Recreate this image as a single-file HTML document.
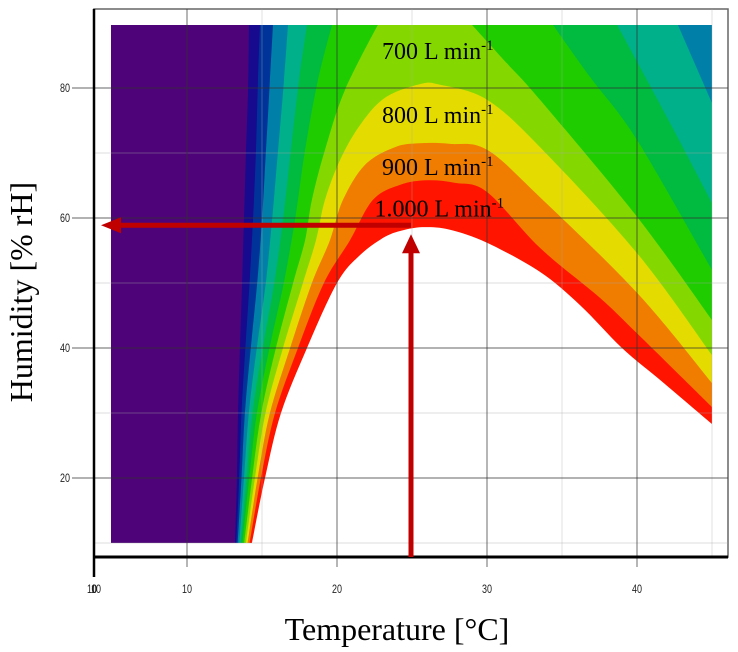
<!DOCTYPE html>
<html><head><meta charset="utf-8"><style>
html,body{margin:0;padding:0;background:#fff;}
svg{display:block;}
</style></head><body>
<svg id="chart" width="738" height="652" viewBox="0 0 738 652" xmlns="http://www.w3.org/2000/svg"></svg>
<script>
// ---- data ----
const xTicks = [10, 20, 30, 40];
const yTicks = [20, 40, 60, 80];
const xMinorTicks = [15, 25, 35, 45];
const yMinorTicks = [10, 30, 50, 70];
const bandColors = ["#170A8F","#003399","#0080A8","#00B08A","#00BB40","#1ECC00","#84D800","#E4DC00","#F07C00","#FF1400","#FFFFFF"];
const baseColor = "#4E0478";
const dataExtentT = [4.93, 45];
const dataExtentH = [10, 89.7];
const b0T = [13.2,13.33,13.4,13.53,13.67,13.8,13.93,14.07,14.13];
const b0H = [10,20,30,40,50,60,70,80,89.7];
const b1T = [13.29,13.48,13.63,13.89,14.17,14.4,14.6,14.73,14.87];
const b1H = [10,20,30,40,50,59.7,70.5,81.2,89.7];
const b2T = [13.38,13.63,13.86,14.25,14.68,15,15.27,15.53,15.73];
const b2H = [10,20,30,40,50,59.7,70.5,81.2,89.7];
const b3T = [13.49,13.8,14.12,14.65,15.25,15.67,16.07,16.47,16.73,42.73,45];
const b3H = [10,20,30,40,50,59.7,70.5,81.2,89.7,89.7,77.7];
const b4T = [13.59,13.97,14.37,15.05,15.82,16.4,16.93,17.47,18,38.67,42,45];
const b4H = [10,20,30,40,50,59.7,70.5,81.2,89.7,89.7,75.5,62.3];
const b5T = [13.7,14.15,14.66,15.5,16.45,17.2,17.87,18.73,19.67,34.4,36.87,40,45];
const b5H = [10,20,30,40,50,59.7,70.5,81.2,89.7,89.7,81.7,72,52];
const b6T = [13.81,14.34,14.95,15.93,17.07,17.87,18.33,19.2,20.53,22.73,29,31.33,33.53,40,45];
const b6H = [10,20,30,40,50,56.6,62.8,70.5,79.7,89.7,89.7,83.8,78.2,60.2,44.3];
const b7T = [13.93,14.53,15.23,16.4,17.73,18.6,19.2,20.2,21.53,23.2,25.53,26.87,30,33.53,40,45];
const b7H = [10,20,30,40,50,56.6,62.8,68.9,74.3,78.5,80.6,80.5,78.2,70.9,54.6,38.9];
const b8T = [14.04,14.71,15.53,16.87,18.33,19.53,20.4,21.87,23.87,25.53,27.53,30,33.53,40,45];
const b8H = [10,20,30,40,50,56.6,62.8,68.2,70.9,71.5,71.4,70.5,63.2,48.5,34.6];
const b9T = [14.17,14.93,15.87,17.4,19.13,20.87,22.4,24.2,26,27.87,30,33.53,37.53,40.2,45];
const b9H = [10,20,30,40,50,56.6,62.8,65.1,65.8,65.4,64,55.4,47.7,41.8,30.9];
const b10T = [14.33,15.2,16.27,18,20,21.53,23.2,24.53,25.87,27.53,30,33.53,36.2,39,41.53,45];
const b10H = [10,20,30,40,50,54.3,57.1,58.2,58.6,58.2,56.2,51.7,46.6,40,35.1,28.3];
const boundariesT = [b0T,b1T,b2T,b3T,b4T,b5T,b6T,b7T,b8T,b9T,b10T];
const boundariesH = [b0H,b1H,b2H,b3H,b4H,b5H,b6H,b7H,b8H,b9H,b10H];
const levelLabels = ["700 L min","800 L min","900 L min","1.000 L min"];
const levelLabelT = [23.0, 23.0, 23.0, 22.5];
const levelLabelH = [84.5, 74.6, 66.6, 60.2];
const markerT = 25;
const markerH = 59.5;

// ---- axes ----
const X = t => 37 + t * 15;
const Y = h => 608 - h * 6.5;
const NS = "http://www.w3.org/2000/svg";
const svg = document.getElementById("chart");
function mk(tag, attrs, parent) {
  const e = document.createElementNS(NS, tag);
  for (const k in attrs) e.setAttribute(k, attrs[k]);
  (parent || svg).appendChild(e);
  return e;
}
function smoothPath(pts, straightFlags) {
  let d = "M" + pts[0][0].toFixed(1) + "," + pts[0][1].toFixed(1);
  for (let i = 0; i < pts.length - 1; i++) {
    const p0 = pts[Math.max(0, i - 1)], p1 = pts[i], p2 = pts[i + 1], p3 = pts[Math.min(pts.length - 1, i + 2)];
    if (straightFlags[i]) { d += " L" + p2[0].toFixed(1) + "," + p2[1].toFixed(1); continue; }
    const s = 1 / 6;
    let c1x = p1[0] + (p2[0] - p0[0]) * s, c1y = p1[1] + (p2[1] - p0[1]) * s;
    let c2x = p2[0] - (p3[0] - p1[0]) * s, c2y = p2[1] - (p3[1] - p1[1]) * s;
    if (straightFlags[i - 1]) { c1x = p1[0]; c1y = p1[1]; }
    if (straightFlags[i + 1]) { c2x = p2[0]; c2y = p2[1]; }
    d += " C" + c1x.toFixed(1) + "," + c1y.toFixed(1) + " " + c2x.toFixed(1) + "," + c2y.toFixed(1) + " " + p2[0].toFixed(1) + "," + p2[1].toFixed(1);
  }
  return d;
}
const defs = mk("defs", {});
const cp = mk("clipPath", {id: "dataClip"}, defs);
mk("rect", {x: X(dataExtentT[0]), y: Y(dataExtentH[1]), width: X(dataExtentT[1]) - X(dataExtentT[0]), height: Y(dataExtentH[0]) - Y(dataExtentH[1])}, cp);

const frame = mk("rect", {x: 94, y: 9, width: 634, height: 548, fill: "none", stroke: "#666", "stroke-width": 1.5});



const g = mk("g", {"clip-path": "url(#dataClip)"});


const bg = mk("rect", {x: X(dataExtentT[0]), y: Y(dataExtentH[1]), width: X(dataExtentT[1]) - X(dataExtentT[0]), height: Y(dataExtentH[0]) - Y(dataExtentH[1]), fill: baseColor}, g);


for (let i = 0; i < boundariesT.length; i++) {
  const T = boundariesT[i], H = boundariesH[i];
  const pts = T.map((t, j) => [X(t), Y(H[j])]);
  const flags = H.slice(0, -1).map((h, j) => h >= dataExtentH[1] && H[j + 1] >= dataExtentH[1]);
  let d = smoothPath(pts, flags);
  const last = T[T.length - 1];
  if (last < dataExtentT[1]) d += " L" + X(dataExtentT[1]) + "," + Y(dataExtentH[1]);
  d += " L" + X(dataExtentT[1]) + "," + (Y(dataExtentH[0]) + 2) + " L" + pts[0][0].toFixed(1) + "," + (Y(dataExtentH[0]) + 2) + " Z";
  const p = mk("path", {d: d, fill: bandColors[i]}, g);
  
  
}

const grid = mk("g", {});


xMinorTicks.forEach(t => { const l = mk("line", {x1: X(t), x2: X(t), y1: 9, y2: 557, stroke: "#aaa", "stroke-opacity": 0.3, "stroke-width": 1.2}, grid);   });
yMinorTicks.forEach(h => { const l = mk("line", {x1: 94, x2: 728, y1: Y(h), y2: Y(h), stroke: "#aaa", "stroke-opacity": 0.3, "stroke-width": 1.2}, grid);   });
xTicks.forEach(t => { const l = mk("line", {x1: X(t), x2: X(t), y1: 9, y2: 567, stroke: "#333", "stroke-opacity": 0.6, "stroke-width": 1.2}, grid);   });
yTicks.forEach(h => { const l = mk("line", {x1: 72, x2: 728, y1: Y(h), y2: Y(h), stroke: "#333", "stroke-opacity": 0.6, "stroke-width": 1.2}, grid);   });

const xa = mk("line", {x1: 94, x2: 728, y1: 557, y2: 557, stroke: "#000", "stroke-width": 3});


const ya = mk("line", {x1: 94, x2: 94, y1: 9, y2: 577, stroke: "#000", "stroke-width": 2.5});



const tickStyle = "font-family:'Liberation Sans',sans-serif;font-size:12px;fill:#222";
xTicks.forEach(t => {
  const tx = mk("text", {x: X(t), y: 593, "text-anchor": "middle", style: tickStyle, transform: `translate(${X(t)},0) scale(0.75,1) translate(${-X(t)},0)`});
  tx.textContent = t;
  
  
});
["10","0","10"].forEach((s, i) => {
  const tx = mk("text", {x: 92 + i * 2, y: 593, "text-anchor": "middle", style: tickStyle, transform: `translate(${92 + i*2},0) scale(0.75,1) translate(${-(92 + i*2)},0)`});
  tx.textContent = s;
  
  
});
yTicks.forEach(h => {
  const tx = mk("text", {x: 70, y: Y(h) + 4, "text-anchor": "end", style: tickStyle, transform: `translate(70,0) scale(0.75,1) translate(-70,0)`});
  tx.textContent = h;
  
  
});

const lblStyle = "font-family:'Liberation Serif',serif;font-size:24px;fill:#000";
levelLabels.forEach((s, i) => {
  const tx = mk("text", {x: X(levelLabelT[i]), y: Y(levelLabelH[i]), style: lblStyle});
  tx.textContent = s;
  const sup = mk("tspan", {dy: -9, style: "font-size:15px"}, tx);
  sup.textContent = "-1";
  
  
});

const arr = mk("g", {fill: "#C00000", stroke: "none"});


const mx = X(markerT) - 1, my = Y(markerH) + 4;
const va = mk("rect", {x: mx - 2.5, y: my + 20, width: 5, height: 557 - my - 20}, arr);


const vh = mk("polygon", {points: `${mx},${my + 9} ${mx - 9},${my + 28} ${mx + 9},${my + 28}`}, arr);


const ha = mk("rect", {x: 118, y: my - 2.5, width: mx - 118, height: 5}, arr);


const hh = mk("polygon", {points: `101,${my} 121,${my - 8} 121,${my + 8}`}, arr);



const xt = mk("text", {x: 397, y: 640, "text-anchor": "middle", style: "font-family:'Liberation Serif',serif;font-size:32px;fill:#000"});
xt.textContent = "Temperature [°C]";


const yt = mk("text", {x: 0, y: 0, "text-anchor": "middle", transform: "translate(32,292) rotate(-90)", style: "font-family:'Liberation Serif',serif;font-size:32px;fill:#000"});
yt.textContent = "Humidity [% rH]";


</script>
</body></html>
